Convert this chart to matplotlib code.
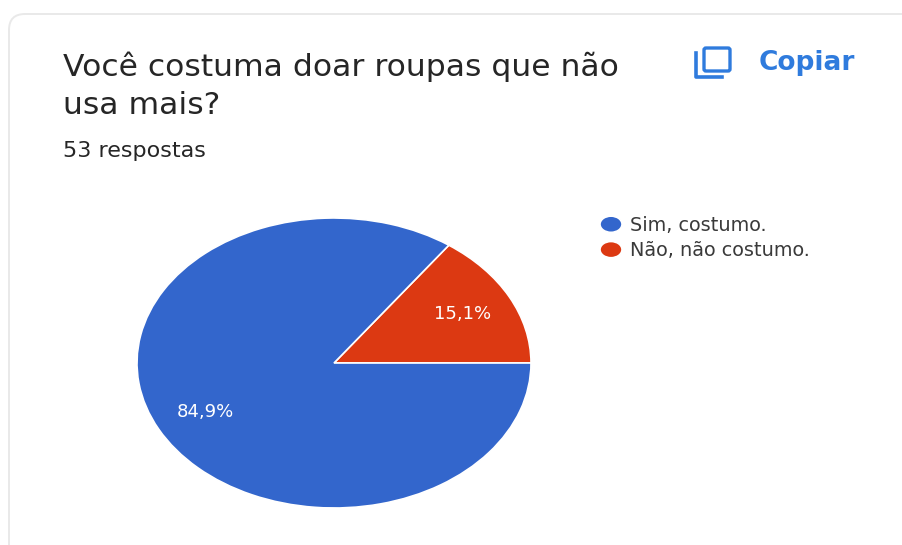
"""Google Forms style pie chart: doar roupas."""

import matplotlib

matplotlib.use("Agg")
import matplotlib.pyplot as plt
from matplotlib.legend_handler import HandlerPatch
from matplotlib.patches import Ellipse, FancyBboxPatch

TITLE_LINES = ["Você costuma doar roupas que não", "usa mais?"]
SUBTITLE = "53 respostas"
COPY_LABEL = "Copiar"
CATEGORIES = ["Sim, costumo.", "Não, não costumo."]
RESPONSES = [45, 8]
COLORS = ["#3366CC", "#DC3912"]

WIDTH, HEIGHT = 902, 545
TEXT_COLOR = "#262626"
LINK_COLOR = "#2F7BDD"

plt.rcParams["font.family"] = "DejaVu Sans"


def ellipse_handle(legend, orig_handle, xdescent, ydescent, width, height, fontsize):
    return Ellipse((width / 2 - xdescent, height / 2 - ydescent), width, height * 1.2)


figure = plt.figure(figsize=(WIDTH / 100, HEIGHT / 100), dpi=100, facecolor="white")

# page layer in pixel coordinates, y pointing down
page = figure.add_axes([0, 0, 1, 1])
page.set_xlim(0, WIDTH)
page.set_ylim(HEIGHT, 0)
page.axis("off")

page.add_patch(
    FancyBboxPatch(
        (9, 14),
        WIDTH + 40,
        HEIGHT + 40,
        boxstyle="round,pad=0,rounding_size=16",
        facecolor="white",
        edgecolor="#E9E9E9",
        linewidth=1.4,
    )
)

page.text(63, 76, TITLE_LINES[0], fontsize=22.6, color=TEXT_COLOR, va="baseline")
page.text(63, 114, TITLE_LINES[1], fontsize=22.6, color=TEXT_COLOR, va="baseline")
page.text(63, 157, SUBTITLE, fontsize=16, color=TEXT_COLOR, va="baseline")
page.text(759, 70, COPY_LABEL, fontsize=19, color=LINK_COLOR, va="baseline", weight="bold")

# copy icon
page.add_patch(
    FancyBboxPatch(
        (704, 48),
        26,
        23,
        boxstyle="round,pad=0,rounding_size=2",
        facecolor="none",
        edgecolor=LINK_COLOR,
        linewidth=2.4,
    )
)
page.plot([696, 696, 722], [53, 77, 77], color=LINK_COLOR, lw=2.6, solid_joinstyle="round")

# pie is stretched horizontally, so the axes box decides the ellipse
pie_axis = figure.add_axes(
    [(334 - 197) / WIDTH, 1 - (363 + 145) / HEIGHT, 2 * 197 / WIDTH, 2 * 145 / HEIGHT]
)
# reversed so the small slice starts at 3 o'clock, legend keeps the answer order
wedges, _, autotexts = pie_axis.pie(
    RESPONSES[::-1],
    colors=COLORS[::-1],
    startangle=0,
    counterclock=True,
    radius=1,
    autopct=lambda value: f"{value:.1f}%".replace(".", ","),
    pctdistance=0.735,
    wedgeprops={"edgecolor": "white", "linewidth": 1.2},
    textprops={"color": "white", "fontsize": 13},
)
pie_axis.set_aspect("auto")
pie_axis.set_xlim(-1, 1)
pie_axis.set_ylim(-1, 1)

figure.legend(
    wedges[::-1],
    CATEGORIES,
    loc="upper left",
    bbox_to_anchor=(600 / WIDTH, 1 - 216 / HEIGHT),
    frameon=False,
    fontsize=13.9,
    labelcolor="#3A3A3A",
    borderpad=0,
    borderaxespad=0,
    handlelength=1.14,
    handleheight=0.7,
    handletextpad=0.42,
    labelspacing=0.33,
    handler_map={type(wedges[0]): HandlerPatch(patch_func=ellipse_handle)},
)

figure.savefig("out.png", dpi=100)
plt.close(figure)
